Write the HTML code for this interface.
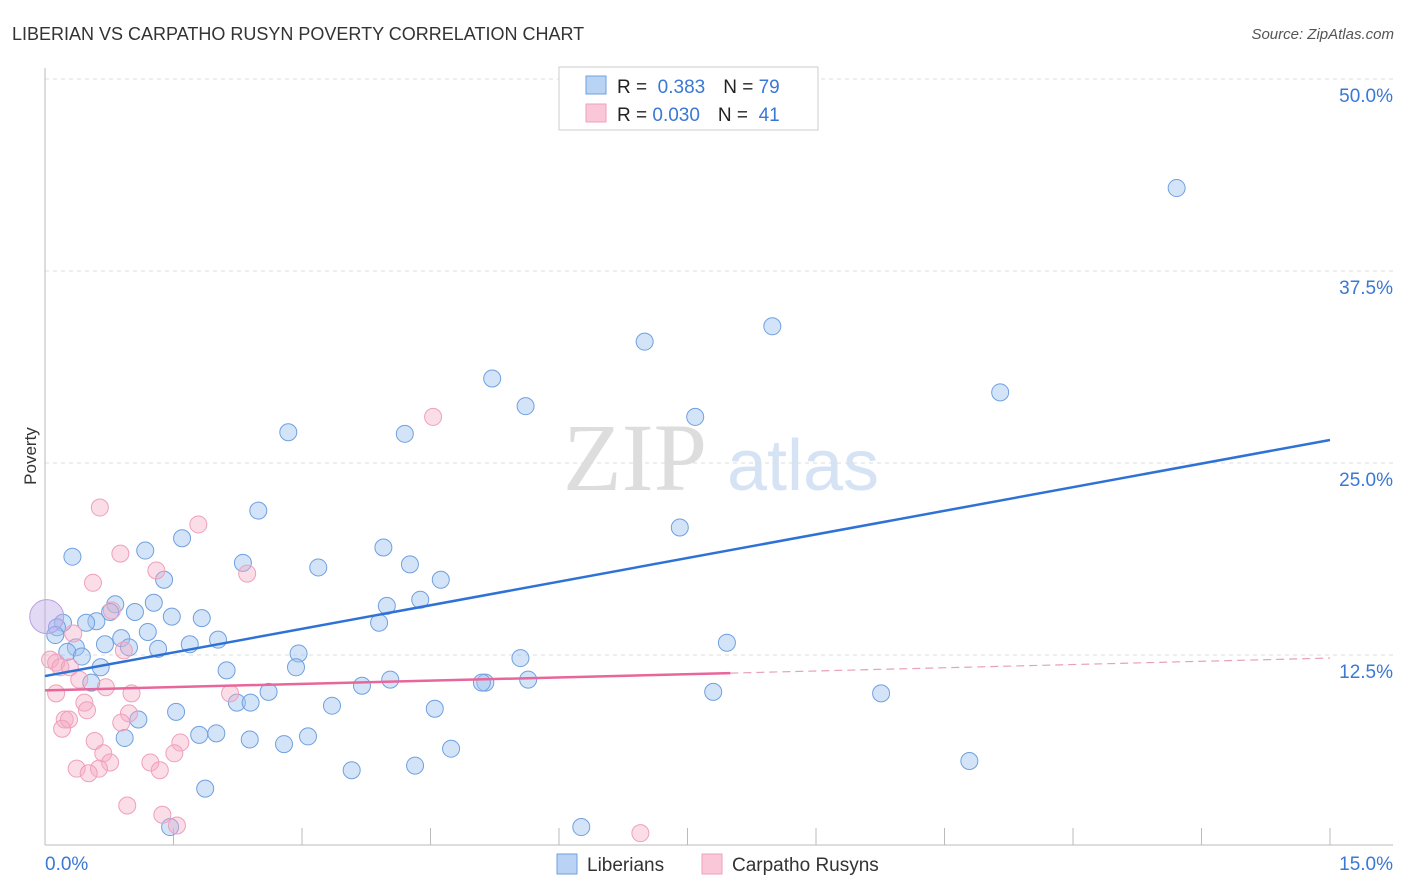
<!DOCTYPE html>
<html><head><meta charset="utf-8"><style>
body{margin:0;background:#fff;font-family:"Liberation Sans",sans-serif}
svg{display:block}
</style></head><body>
<svg id="chart" width="1406" height="892">
<text x="12" y="40" font-size="18" fill="#333">LIBERIAN VS CARPATHO RUSYN POVERTY CORRELATION CHART</text>
<text x="1394" y="39" font-size="15" fill="#555" font-style="italic" text-anchor="end">Source: ZipAtlas.com</text>
<text x="36" y="456" font-size="17" fill="#333" text-anchor="middle" transform="rotate(-90 36 456)">Poverty</text>
<g>
<text x="635" y="490" font-size="96" fill="#ddd" font-family="Liberation Serif" text-anchor="middle">ZIP</text>
<text x="803" y="490" font-size="72" fill="#d5e3f5" text-anchor="middle">atlas</text>
</g>
<g id="grid"></g><g id="axes"></g><g id="pts"></g><g id="lines"></g>
<g>
<rect x="559" y="67" width="259" height="63" fill="#fff" stroke="#ccc"/>
<rect x="586" y="76" width="20" height="18" fill="#b9d3f5" stroke="#6fa0e0"/>
<rect x="586" y="104" width="20" height="18" fill="#f9c7d7" stroke="#eea0bb"/>
<text x="617" y="93" font-size="19" fill="#222">R = <tspan fill="#3a78d4">&#160;0.383</tspan><tspan dx="18">N = </tspan><tspan fill="#3a78d4">79</tspan></text>
<text x="617" y="121" font-size="19" fill="#222">R = <tspan fill="#3a78d4">0.030</tspan><tspan dx="18">N = </tspan><tspan fill="#3a78d4">&#160;41</tspan></text>
</g>
<g>
<rect x="557" y="854" width="20" height="20" fill="#b9d3f5" stroke="#6fa0e0"/>
<text x="587" y="871" font-size="19" fill="#333">Liberians</text>
<rect x="702" y="854" width="20" height="20" fill="#f9c7d7" stroke="#eea0bb"/>
<text x="732" y="871" font-size="19" fill="#333">Carpatho Rusyns</text>
</g>
</svg>
<script>
const yTicks=[12.5,25,37.5,50];
const yTickLabels=["12.5%","25.0%","37.5%","50.0%"];
const xTickLabels=["0.0%","15.0%"];
const blueX=[13.21,8.49,7.00,11.15,5.22,5.61,7.59,2.84,4.20,7.41,2.49,1.60,1.17,0.32,3.95,2.31,3.19,4.26,1.39,4.62,4.38,3.99,1.27,0.82,1.05,0.76,1.48,1.83,3.90,0.60,0.48,0.21,0.14,0.12,1.20,0.89,2.02,0.70,0.98,1.69,1.32,0.36,0.26,0.43,2.96,7.96,5.55,2.93,0.65,2.12,4.03,5.64,5.14,5.10,3.70,0.54,2.61,7.80,9.76,2.24,2.40,3.35,4.55,1.53,1.09,0.93,1.80,2.00,2.39,3.07,2.79,4.74,4.32,3.58,10.79,1.87,6.26,1.46];
const blueY=[42.9,33.9,32.9,29.6,30.5,28.7,28.0,27.0,26.9,20.8,21.9,20.1,19.3,18.9,19.5,18.5,18.2,18.4,17.4,17.4,16.1,15.7,15.9,15.8,15.3,15.3,15.0,14.9,14.6,14.7,14.6,14.6,14.3,13.8,14.0,13.6,13.5,13.2,13.0,13.2,12.9,13.0,12.7,12.4,12.6,13.3,12.3,11.7,11.7,11.5,10.9,10.9,10.7,10.7,10.5,10.7,10.1,10.1,10.0,9.4,9.4,9.2,9.0,8.8,8.3,7.1,7.3,7.4,7.0,7.2,6.7,6.4,5.3,5.0,5.6,3.8,1.3,1.3];
const pinkX=[4.53,0.64,1.79,0.88,1.30,2.36,0.56,0.78,0.33,0.92,0.06,0.13,0.18,0.29,0.40,0.71,1.01,2.16,0.13,0.46,0.49,0.98,0.23,0.28,0.89,0.20,0.58,1.58,0.68,1.51,0.76,1.23,0.37,0.63,1.34,0.51,0.96,1.37,1.54,6.95];
const pinkY=[28.0,22.1,21.0,19.1,18.0,17.8,17.2,15.4,13.9,12.8,12.2,12.0,11.7,11.7,10.9,10.4,10.0,10.0,10.0,9.4,8.9,8.7,8.3,8.3,8.1,7.7,6.9,6.8,6.1,6.1,5.5,5.5,5.1,5.1,5.0,4.8,2.7,2.1,1.4,0.9];
const blueFit=[11.13,26.5];
const pinkFit=[10.2,12.3];
const X=v=>45+v/15*1285, Y=v=>847-v/12.5*192;
const NS="http://www.w3.org/2000/svg";
function mk(t,a,p){const e=document.createElementNS(NS,t);for(const k in a)e.setAttribute(k,a[k]);p.appendChild(e);return e;}
const grid=document.getElementById('grid'),axes=document.getElementById('axes'),pts=document.getElementById('pts'),lines=document.getElementById('lines');
yTicks.forEach((v,i)=>{
 const l=mk('line',{x1:45,x2:1393,y1:Y(v),y2:Y(v),stroke:'#ddd','stroke-dasharray':'4 4'},grid);
 
 
 const t=mk('text',{x:1393,y:Y(v)+23,'font-size':19,fill:'#3a78d4','text-anchor':'end'},axes);
 t.textContent=yTickLabels[i];
 
 
});
let a=mk('line',{x1:45,x2:45,y1:68,y2:845,stroke:'#bbb'},axes);


a=mk('line',{x1:45,x2:1393,y1:845,y2:845,stroke:'#bbb'},axes);


for(let i=1;i<=10;i++){
 const tk=mk('line',{x1:X(i*1.5),x2:X(i*1.5),y1:828,y2:845,stroke:'#bbb'},axes);
 
 
}
[[45,'start'],[1393,'end']].forEach((p,i)=>{
 const t=mk('text',{x:p[0],y:870,'font-size':19,fill:'#3a78d4','text-anchor':p[1]},axes);
 t.textContent=xTickLabels[i];
 
 
});
function dots(xs,ys,fill,stroke,name){
 xs.forEach((x,i)=>{
  const c=mk('circle',{cx:X(x),cy:Y(ys[i]),r:8.5,fill:fill,stroke:stroke,'stroke-width':1},pts);
  
  
 });
}
dots(blueX,blueY,'rgba(160,195,240,0.45)','#6fa0e0','liberian-point');
dots(pinkX,pinkY,'rgba(245,170,195,0.4)','#eea0bb','carpatho-point');
let b=mk('circle',{cx:X(0.02),cy:Y(15.0),r:17,fill:'rgba(190,170,230,0.45)',stroke:'#b9a0dd'},pts);


let l=mk('line',{x1:X(0),x2:X(15),y1:Y(blueFit[0]),y2:Y(blueFit[1]),stroke:'#2f72d6','stroke-width':2.5},lines);


const pm=pinkFit[0]+(pinkFit[1]-pinkFit[0])*(8/15);
l=mk('line',{x1:X(0),x2:X(8),y1:Y(pinkFit[0]),y2:Y(pm),stroke:'#e8669a','stroke-width':2.5},lines);


l=mk('line',{x1:X(8),x2:X(15),y1:Y(pm),y2:Y(pinkFit[1]),stroke:'#e8a0bb','stroke-width':1.2,'stroke-dasharray':'8 5'},lines);


</script>
</body></html>
